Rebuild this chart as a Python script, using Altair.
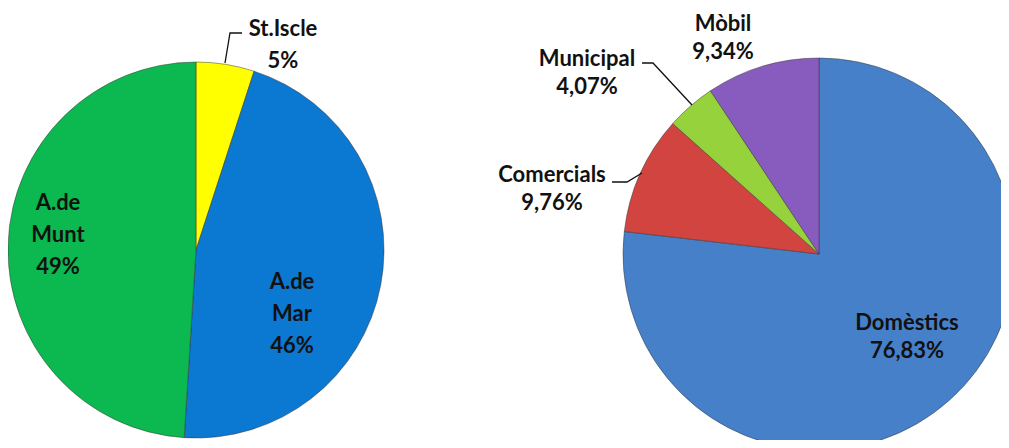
import altair as alt
import pandas as pd

# ---- data ----
left_categories = ["St.Iscle", "A.de Mar", "A.de Munt"]
left_values = [5, 46, 49]
left_labels = ["St.Iscle\n5%", "A.de\nMar\n46%", "A.de\nMunt\n49%"]

right_categories = ["Domèstics", "Comercials", "Municipal", "Mòbil"]
right_values = [76.83, 9.76, 4.07, 9.34]
right_labels = ["Domèstics\n76,83%", "Comercials\n9,76%", "Municipal\n4,07%", "Mòbil\n9,34%"]

# ---- styles / layout ----
all_categories = left_categories + right_categories
all_colors = ["#FFFF00", "#0B78D2", "#0CB850", "#4680C8", "#D24440", "#96D23C", "#885CBE"]

W, H = 993, 432
OFF = 8  # page margin
left_cx, left_cy, left_r = 196 - OFF, 250 - OFF, 188
right_cx, right_cy, right_r = 819 - OFF, 254 - OFF, 196

# first-line positions of each label block
left_label_xy = [(283, 29), (292, 282), (58, 203)]
right_label_xy = [(907, 323), (552, 175), (587, 59), (723, 24)]

leader_lines = [
    [(225, 63), (230, 33), (242, 33)],
    [(612, 182), (627, 182), (642, 173)],
    [(642, 63), (653, 63), (692, 105)],
]

left_df = pd.DataFrame({"category": left_categories, "value": left_values,
                        "idx": list(range(len(left_values)))})
right_df = pd.DataFrame({"category": right_categories, "value": right_values,
                         "idx": list(range(len(right_values)))})

color_scale = alt.Scale(domain=all_categories, range=all_colors)

def pie(df, cx, cy, r):
    return alt.Chart(df).mark_arc(
        radius=r, stroke="#303030", strokeWidth=0.8, strokeOpacity=0.6
    ).encode(
        theta=alt.Theta("value:Q", stack=True),
        color=alt.Color("category:N", scale=color_scale, legend=None),
        order=alt.Order("idx:Q", sort="ascending"),
        x=alt.value(cx),
        y=alt.value(cy),
    )

left_pie = pie(left_df, left_cx, left_cy, left_r)
right_pie = pie(right_df, right_cx, right_cy, right_r)

def labels(texts, xy, line_h):
    df = pd.DataFrame({"label": texts,
                       "px": [p[0] - OFF for p in xy],
                       "py": [p[1] - OFF for p in xy]})
    return alt.Chart(df).mark_text(
        font="Lato", fontWeight="bold", fontSize=22, color="#111111",
        align="center", baseline="middle", lineBreak="\n", lineHeight=line_h
    ).encode(
        text="label:N",
        x=alt.X("px:Q", scale=None),
        y=alt.Y("py:Q", scale=None),
    )

left_text = labels(left_labels, left_label_xy, 32)
right_text = labels(right_labels, right_label_xy, 28)

rows = []
for i, line in enumerate(leader_lines):
    for j, (px, py) in enumerate(line):
        rows.append({"line": i, "k": j, "px": px - OFF, "py": py - OFF})
lead_df = pd.DataFrame(rows)
leaders = alt.Chart(lead_df).mark_line(color="#111111", strokeWidth=1.3).encode(
    x=alt.X("px:Q", scale=None),
    y=alt.Y("py:Q", scale=None),
    detail="line:N",
    order="k:Q",
)

chart = alt.layer(left_pie, right_pie, leaders, left_text, right_text).resolve_scale(
    theta="independent"
).properties(
    width=W, height=H, padding=0,
    autosize=alt.AutoSizeParams(type="none"),
).configure_view(strokeWidth=0, stroke="transparent", fill="transparent")

chart.save("out.html", embed_options={"renderer": "svg", "actions": False})
